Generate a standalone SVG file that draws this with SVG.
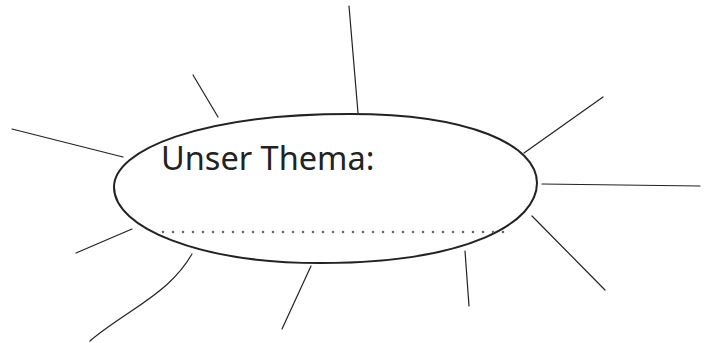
<svg xmlns="http://www.w3.org/2000/svg" width="711" height="343" viewBox="0 0 711 343">
<style>
.ln{fill:none;stroke:#222;stroke-width:1.2;stroke-linecap:round}
.shape{fill:#fff;stroke:#222;stroke-width:2}
.t{font-family:"Noto Sans","Open Sans",sans-serif;font-size:32.5px;fill:#222}
.dots{stroke:#666;stroke-width:2.6;stroke-linecap:round;stroke-dasharray:0 10}
</style>
<rect width="711" height="343" fill="#fff"/>
<g id="connectors">
<line class="ln" x1="349" y1="6" x2="358" y2="113"/>
<line class="ln" x1="193" y1="75" x2="218" y2="117"/>
<line class="ln" x1="12" y1="129" x2="123" y2="157"/>
<line class="ln" x1="76" y1="253" x2="132" y2="229"/>
<path class="ln" d="M192,254 C178,278 160,292 130,312 C112,324 100,332 90,341"/>
<line class="ln" x1="311" y1="266" x2="282" y2="329"/>
<line class="ln" x1="465" y1="251" x2="469" y2="306"/>
<line class="ln" x1="532" y1="216" x2="605" y2="290"/>
<line class="ln" x1="542" y1="184" x2="700" y2="186"/>
<line class="ln" x1="603" y1="97" x2="524" y2="153"/>
</g>
<g id="topic">
<path class="shape" d="M114,187 C114,150 200,114 350,114 C470,114 537,145 537,183 C537,222 470,263 320,263 C200,263 114,228 114,187 Z"/>
<text class="t" x="161" y="170">Unser Thema:</text>
<line class="dots" x1="163" y1="232" x2="504" y2="232"/>
</g>
</svg>
